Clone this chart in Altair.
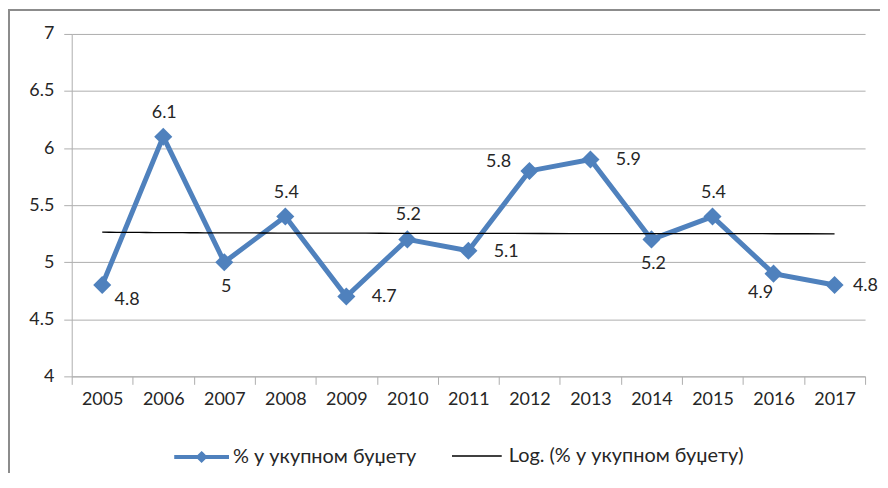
import altair as alt
import pandas as pd

# ---- data ----
years = [2005, 2006, 2007, 2008, 2009, 2010, 2011, 2012, 2013, 2014, 2015, 2016, 2017]
values = [4.8, 6.1, 5.0, 5.4, 4.7, 5.2, 5.1, 5.8, 5.9, 5.2, 5.4, 4.9, 4.8]
y_ticks = [4, 4.5, 5, 5.5, 6, 6.5, 7]
series_name = "% у укупном буџету"
trend_name = "Log. (% у укупном буџету)"

# which data labels sit where around their markers
label_groups = {
    "below_right": [2005],
    "above": [2006, 2008, 2010, 2015],
    "below": [2007, 2014],
    "below_left": [2016],
    "right": [2009, 2011, 2013],
    "right_edge": [2017],
    "left": [2012],
}

# ---- styling ----
BLUE = "#4F81BD"
GRID = "#ADADAD"
TEXT = "#262626"
FONT = "Lato"
offsets = {
    "below_right": (25, 15),
    "above": (1, -24),
    "below": (2, 25),
    "below_left": (-13, 19),
    "right": (38, 1),
    "right_edge": (31, 1),
    "left": (-31, -9),
}

df = pd.DataFrame({"year": years, "val": values, "series": series_name})

x_enc = alt.X(
    "year:Q",
    scale=alt.Scale(domain=[min(years) - 0.5, max(years) + 0.5], nice=False, zero=False),
    axis=alt.Axis(
        values=[min(years) - 0.5 + i for i in range(len(years) + 1)],
        labelExpr=f"datum.value < {max(years)} ? format(datum.value + 0.5, 'd') : ''",
        labelOffset=30.65,
        labelFlush=False,
        labelAlign="center",
        labelOverlap=False,
        grid=False,
        tickSize=8,
        tickColor=GRID,
        domainColor=GRID,
        labelFont=FONT,
        labelFontSize=18,
        labelColor=TEXT,
        labelPadding=6,
        title=None,
    ),
)
y_enc = alt.Y(
    "val:Q",
    scale=alt.Scale(domain=[min(y_ticks), max(y_ticks)], nice=False, zero=False),
    axis=alt.Axis(
        values=y_ticks,
        format=".1~f",
        grid=True,
        gridColor=GRID,
        tickSize=8,
        tickColor=GRID,
        domainColor=GRID,
        labelFont=FONT,
        labelFontSize=18,
        labelColor=TEXT,
        labelPadding=10,
        title=None,
    ),
)

base = alt.Chart(df)

line = base.mark_line(strokeWidth=5).encode(
    x=x_enc,
    y=y_enc,
    color=alt.Color(
        "series:N",
        scale=alt.Scale(domain=[series_name], range=[BLUE]),
        legend=alt.Legend(
            title=None,
            orient="none",
            legendX=101,
            legendY=395.5,
            padding=0,
            symbolType="M-1,0H1M0,-0.12L0.12,0L0,0.12L-0.12,0Z",
            symbolSize=3025,
            symbolStrokeWidth=4,
            symbolFillColor=BLUE,
            labelFont=FONT,
            labelFontSize=20,
            labelColor=TEXT,
            labelOffset=2,
            labelLimit=0,
        ),
    ),
)

points = base.mark_point(shape="diamond", filled=True, size=330, color=BLUE, opacity=1).encode(
    x=x_enc, y=y_enc
)

trend = (
    base.transform_calculate(idx=f"datum.year - {min(years) - 1}")
    .transform_regression("idx", "val", method="log", extent=[1, len(years)])
    .transform_calculate(year=f"datum.idx + {min(years) - 1}", series=f"'{trend_name}'")
    .mark_line(strokeWidth=1.3)
    .encode(
        x=x_enc,
        y=y_enc,
        color=alt.Color(
            "series:N",
            scale=alt.Scale(domain=[trend_name], range=["#000000"]),
            legend=alt.Legend(
                title=None,
                orient="none",
                legendX=381,
                legendY=398,
                padding=0,
                symbolType="stroke",
                symbolSize=2500,
                symbolStrokeWidth=1.3,
                labelFont=FONT,
                labelFontSize=20,
                labelColor=TEXT,
                labelOffset=6,
                labelLimit=0,
            ),
        ),
    )
)

labels = []
for group, yrs in label_groups.items():
    dx, dy = offsets[group]
    labels.append(
        base.transform_filter(alt.FieldOneOfPredicate(field="year", oneOf=yrs))
        .mark_text(dx=dx, dy=dy, font=FONT, fontSize=18, color=TEXT, baseline="middle", align="center")
        .encode(x=x_enc, y=y_enc, text=alt.Text("val:Q", format=".1~f"))
    )

border = alt.Chart(pd.DataFrame({"k": [0]})).mark_rect(
    fill="transparent", stroke="#8C8C8C", strokeWidth=2
).encode(x=alt.value(-63), x2=alt.value(1200), y=alt.value(-24), y2=alt.value(1200))

chart = (
    alt.layer(border, line, points, trend, *labels)
    .resolve_scale(color="independent")
    .properties(
        width=797,
        height=344,
        autosize="none",
        padding={"left": 64, "top": 25, "right": 15, "bottom": 96},
        background="white",
    )
    .configure_view(stroke=None)
)

chart.save("out.html", embed_options={"renderer": "svg", "actions": False})
